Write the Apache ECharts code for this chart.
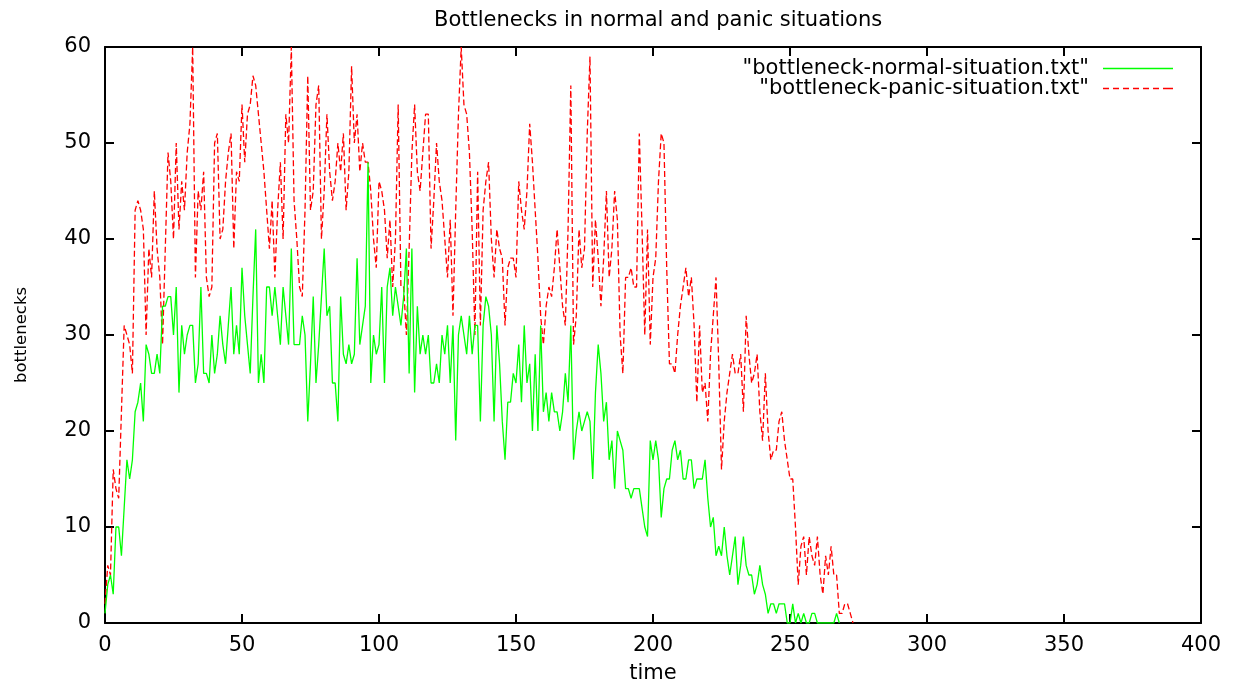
<!DOCTYPE html>
<html>
<head>
<meta charset="utf-8">
<script src="https://cdn.jsdelivr.net/npm/echarts@6/dist/echarts.min.js"></script>
<style>html,body{margin:0;padding:0;background:#fff}#c{width:1238px;height:685px}</style>
</head>
<body>
<div id="c"></div>
<script>
const titleText = 'Bottlenecks in normal and panic situations';
const seriesNames = ['"bottleneck-normal-situation.txt"', '"bottleneck-panic-situation.txt"'];
const xTicks = [0, 50, 100, 150, 200, 250, 300, 350, 400];
const yTicks = [0, 10, 20, 30, 40, 50, 60];

// values at time = 0, 1, 2, ...
const normalValues = [
1,4,5,3,10,10,7,12,17,15, 17,22,23,25,21,29,28,26,26,28,
26,33,33,34,34,30,35,24,31,28, 30,31,31,25,27,35,26,26,25,30,
26,28,32,29,27,31,35,28,31,28, 37,32,29,26,34,41,25,28,25,35,
35,32,35,32,29,35,32,29,39,29, 29,29,32,30,21,27,34,25,29,34,
39,32,33,25,25,21,34,28,27,29, 27,28,38,29,31,33,48,25,30,28,
29,35,25,35,37,32,35,33,31,34, 39,26,39,24,33,28,30,28,30,25,
25,27,25,30,28,31,25,31,19,30, 32,30,28,32,28,31,31,21,31,34,
33,30,21,31,27,21,17,23,23,26, 25,29,23,31,25,27,20,28,20,31,
22,24,21,24,22,22,20,22,26,23, 31,17,20,22,20,21,22,21,15,24,
29,26,21,23,17,19,14,20,19,18, 14,14,13,14,14,14,12,10,9,19,
17,19,17,11,14,15,15,18,19,17, 18,15,15,17,17,14,15,15,15,17,
13,10,11,7,8,7,10,7,5,7, 9,4,6,9,6,5,5,3,4,6,
4,3,1,2,2,1,2,2,2,0, 0,2,0,1,0,1,0,0,1,1,
0,0,0,0,0,0,0,1,0
];
const panicValues = [
2,6,5,16,14,13,22,31,30,29, 26,43,44,43,41,30,39,36,45,39,
36,29,39,49,46,40,50,41,46,43, 49,52,60,36,45,43,47,36,34,35,
50,51,40,41,46,49,51,39,47,46, 54,48,53,54,57,56,53,50,47,43,
39,44,36,43,48,40,53,50,60,44, 40,35,34,43,57,43,45,54,56,40,
45,53,47,44,46,50,47,51,43,47, 58,50,53,47,50,48,48,45,40,37,
46,45,43,38,42,35,40,54,35,35, 30,39,49,54,47,45,49,53,53,39,
44,50,46,44,40,36,42,32,43,53, 60,54,53,49,41,30,47,31,43,46,
48,40,36,41,39,38,31,37,38,38, 36,46,43,41,45,52,48,43,38,32,
29,33,35,34,37,41,37,33,31,41, 56,29,32,41,37,39,51,59,35,42,
38,33,38,45,36,39,45,42,30,26, 36,36,37,35,35,51,41,30,41,29,
36,38,46,51,50,37,27,27,26,30, 33,35,37,34,36,31,23,31,24,25,
21,28,32,36,27,16,21,24,26,28, 26,26,28,22,32,28,25,26,28,22,
19,26,20,17,18,18,21,22,19,17, 15,15,10,4,8,9,5,9,7,6,
9,5,3,7,5,8,5,5,1,1, 2,2,1,0
];

const FONT = 'DejaVu Sans';
const FS = 21;
const chart = echarts.init(document.getElementById('c'), null, {renderer: 'canvas'});
const toPairs = arr => arr.map((v, i) => [i, v]);
const axisCommon = {
  min: 0,
  axisLine: {show: true, onZero: false, lineStyle: {color: '#000', width: 2}},
  axisTick: {show: true, inside: true, length: 9, lineStyle: {color: '#000', width: 2}},
  splitLine: {show: false}
};
const solidIcon = 'path://M0,0h70v1.5h-70z';
const dashIcon = 'path://M0,0h6v1.5h-6z M10,0h6v1.5h-6z M20,0h6v1.5h-6z M30,0h6v1.5h-6z M40,0h6v1.5h-6z M50,0h6v1.5h-6z M60,0h6v1.5h-6z M64,0h6v1.5h-6z';
const legendText = {fontFamily: FONT, fontSize: FS, color: '#000', padding: [0, 9, 0, 0]};
chart.setOption({
  animation: false,
  backgroundColor: '#fff',
  title: {
    text: titleText, left: 429, top: 5,
    textStyle: {fontFamily: FONT, fontSize: FS, fontWeight: 'normal', color: '#000'}
  },
  legend: [
    {data: [{name: seriesNames[0], icon: solidIcon}], right: 60, top: 53, orient: 'vertical', align: 'right',
     itemWidth: 70, itemHeight: 1.5, textStyle: legendText},
    {data: [{name: seriesNames[1], icon: dashIcon}], right: 60, top: 73, orient: 'vertical', align: 'right',
     itemWidth: 70, itemHeight: 1.5, textStyle: legendText}
  ],
  grid: {left: 105, right: 37, top: 47, bottom: 62, show: false, containLabel: false, outerBoundsMode: 'none'},
  xAxis: [
    Object.assign({}, axisCommon, {
      type: 'value', max: 400, interval: 50, position: 'bottom',
      name: 'time', nameLocation: 'middle', nameGap: 40,
      nameTextStyle: {fontFamily: FONT, fontSize: FS, color: '#000'},
      axisLabel: {fontFamily: FONT, fontSize: FS, color: '#000', margin: 12}
    }),
    Object.assign({}, axisCommon, {
      type: 'value', max: 400, interval: 50, position: 'top',
      axisLabel: {show: false}
    })
  ],
  yAxis: [
    Object.assign({}, axisCommon, {
      type: 'value', max: 60, interval: 10, position: 'left',
      name: 'bottlenecks', nameLocation: 'middle', nameGap: 75, nameRotate: 90,
      nameTextStyle: {fontFamily: FONT, fontSize: 16.5, color: '#000'},
      axisLabel: {fontFamily: FONT, fontSize: FS, color: '#000', margin: 14, padding: [6, 0, 0, 0]}
    }),
    Object.assign({}, axisCommon, {
      type: 'value', max: 60, interval: 10, position: 'right',
      axisLabel: {show: false}
    })
  ],
  series: [
    {name: seriesNames[0], type: 'line', data: toPairs(normalValues), showSymbol: false, symbol: 'none',
     xAxisIndex: 0, yAxisIndex: 0, z: 3,
     itemStyle: {color: '#00ff00'}, lineStyle: {color: '#00ff00', width: 1.3}},
    {name: seriesNames[1], type: 'line', data: toPairs(panicValues), showSymbol: false, symbol: 'none',
     xAxisIndex: 0, yAxisIndex: 0, z: 2,
     itemStyle: {color: '#ff0000'}, lineStyle: {color: '#ff0000', width: 1.3, type: [6, 3]}}
  ]
});
</script>
</body>
</html>
